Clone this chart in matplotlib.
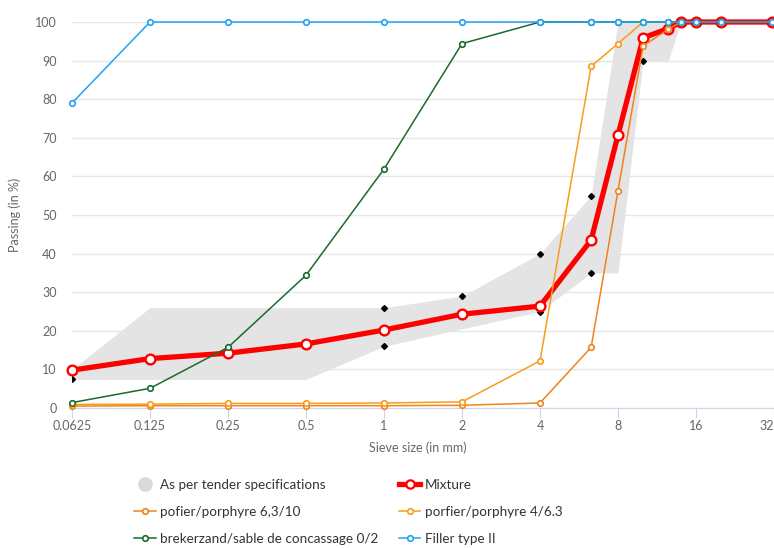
import matplotlib.pyplot as plt
from matplotlib.lines import Line2D

plt.rcParams['font.family'] = ['Lato', 'DejaVu Sans']

# sieve sizes (mm) and % passing per material
sieves = [0.0625, 0.125, 0.25, 0.5, 1, 2, 4, 6.3, 8, 10, 12.5, 14, 16, 20, 31.5]
mixture = [9.8, 12.8, 14.2, 16.6, 20.2, 24.3, 26.4, 43.5, 70.7, 95.9, 98.3, 100, 100, 100, 100]
porphyre_63_10 = [0.5, 0.6, 0.6, 0.6, 0.6, 0.7, 1.3, 15.7, 56.3, 93.8, 98.1, 100, 100, 100, 100]
porphyre_4_63 = [0.9, 1.0, 1.2, 1.2, 1.3, 1.6, 12.2, 88.5, 94.4, 100, 100, 100, 100, 100, 100]
brekerzand = [1.4, 5.1, 15.7, 34.4, 61.9, 94.4, 100, 100, 100, 100, 100, 100, 100, 100, 100]
filler = [79.0, 100, 100, 100, 100, 100, 100, 100, 100, 100, 100, 100, 100, 100, 100]

# tender specification envelope
spec_sieves = [0.0625, 0.125, 0.25, 0.5, 1, 2, 4, 6.3, 8, 10, 12.5, 14]
spec_upper = [10, 26, 26, 26, 26, 29, 40, 55, 100, 100, 100, 100]
spec_lower = [7.4, 7.4, 7.4, 7.4, 16, 20.5, 25, 35, 35, 90, 90, 100]
spec_pts_x = [0.0625, 1, 1, 2, 4, 4, 6.3, 6.3, 10]
spec_pts_y = [7.4, 26, 16, 29, 40, 25, 55, 35, 90]

xticks = [0.0625, 0.125, 0.25, 0.5, 1, 2, 4, 8, 16, 32]
xtick_labels = ['0.0625', '0.125', '0.25', '0.5', '1', '2', '4', '8', '16', '32']

c_red = '#ff0000'
c_orange_dark = '#f0821e'
c_orange_light = '#f89c1c'
c_green = '#1a6b2c'
c_blue = '#1fa3f2'
c_spec = '#e4e4e4'

fig = plt.figure(figsize=(7.74, 5.48), dpi=100)
ax = fig.add_axes([72 / 774, 1 - 408 / 548, 702 / 774, 386 / 548])

ax.fill_between(spec_sieves, spec_lower, spec_upper, color=c_spec, lw=0, zorder=1)
ax.plot(spec_pts_x, spec_pts_y, 'D', color='black', ms=3, zorder=2)

ax.plot(sieves, mixture, color=c_red, lw=3.8, marker='o', ms=7, mfc='white',
        mec=c_red, mew=1.7, zorder=3, clip_on=False)

thin = dict(lw=1.1, marker='o', ms=4, mfc='white', mew=1.2, clip_on=False)
ax.plot(sieves, porphyre_63_10, color=c_orange_dark, mec=c_orange_dark, zorder=4, **thin)
ax.plot(sieves, porphyre_4_63, color=c_orange_light, mec=c_orange_light, zorder=5, **thin)
ax.plot(sieves, brekerzand, color=c_green, mec=c_green, zorder=6, **thin)
ax.plot(sieves, filler, color=c_blue, mec=c_blue, zorder=7, **thin)

ax.set_xscale('log', base=2)
ax.set_xlim(0.0625, 32)
ax.set_ylim(0, 100)
ax.set_xticks(xticks)
ax.set_xticklabels(xtick_labels)
ax.get_xticklabels()[-1].set_horizontalalignment('right')
ax.minorticks_off()
ax.set_yticks(range(0, 101, 10))

for s in ['top', 'right', 'left']:
    ax.spines[s].set_visible(False)
ax.spines['bottom'].set_color('#ccd6eb')
ax.spines['bottom'].set_zorder(0.5)
ax.yaxis.grid(True, color='#e6e6e6', lw=1)
ax.set_axisbelow(True)
ax.tick_params(axis='y', length=0, pad=11, labelsize=9, labelcolor='#666666')
ax.tick_params(axis='x', length=7.5, width=0.8, color='#ccd6eb', pad=1.5,
               labelsize=9, labelcolor='#666666')

fig.text(15 / 774, 1 - 215 / 548, 'Passing (in %)', rotation=90, ha='center',
         va='center', fontsize=9, color='#666666')
fig.text(418 / 774, 1 - 448 / 548, 'Sieve size (in mm)', ha='center',
         va='center', fontsize=9, color='#666666')

handles = [
    Line2D([], [], ls='none', marker='o', ms=9.5, color='#d9d9d9'),
    Line2D([], [], color=c_orange_dark, lw=1.1, marker='o', ms=4, mfc='white', mew=1.2),
    Line2D([], [], color=c_green, lw=1.1, marker='o', ms=4, mfc='white', mew=1.2),
    Line2D([], [], color=c_red, lw=3.8, marker='o', ms=6, mfc='white', mew=1.6),
    Line2D([], [], color=c_orange_light, lw=1.1, marker='o', ms=4, mfc='white', mew=1.2),
    Line2D([], [], color=c_blue, lw=1.1, marker='o', ms=4, mfc='white', mew=1.2),
]
labels = ['As per tender specifications', 'pofier/porphyre 6,3/10',
          'brekerzand/sable de concassage 0/2', 'Mixture',
          'porfier/porphyre 4/6.3', 'Filler type II']
fig.legend(handles, labels, ncol=2, loc='upper left',
           bbox_to_anchor=(134 / 774, 1 - 479 / 548), frameon=False,
           fontsize=9.7, labelcolor='#333333', handlelength=1.6,
           handletextpad=0.35, columnspacing=1.5, labelspacing=1.12,
           borderpad=0, borderaxespad=0)

fig.savefig('out.png', dpi=100)
